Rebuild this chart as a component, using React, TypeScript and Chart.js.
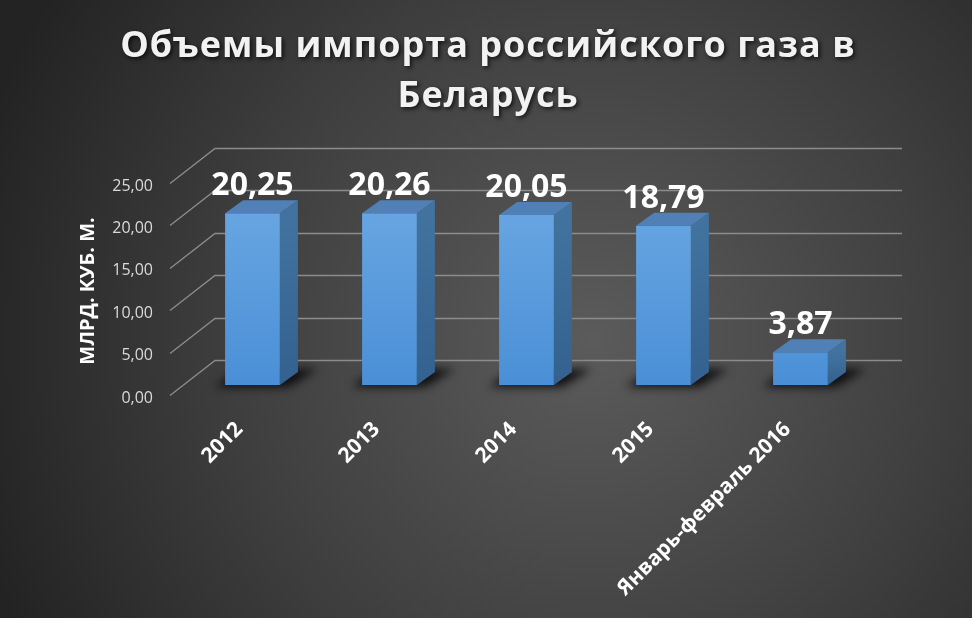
import React, { useEffect, useRef } from 'react';
import { Chart, registerables } from 'chart.js';

Chart.register(...registerables);

const categories = ['2012', '2013', '2014', '2015', 'Январь-февраль 2016'];
const values = [20.25, 20.26, 20.05, 18.79, 3.87];
const yMin = 0;
const yMax = 25;
const yStep = 5;
const titleLines = ['Объемы импорта российского газа в', 'Беларусь'];
const yTitle = 'МЛРД. КУБ. М.';

const FONT = '"Open Sans", "Noto Sans", sans-serif';
const DX = 18;
const DY = -13;

const fmt = (v: number) => v.toFixed(2).replace('.', ',');

const fake3d = {
  id: 'fake3d',
  beforeDraw(chart: any) {
    const { ctx, width, height } = chart;
    ctx.save();
    const g = ctx.createRadialGradient(590, 340, 0, 590, 340, 640);
    g.addColorStop(0, '#5b5b5b');
    g.addColorStop(0.55, '#3f3f3f');
    g.addColorStop(1, '#232323');
    ctx.fillStyle = g;
    ctx.fillRect(0, 0, width, height);
    ctx.restore();
  },
  beforeDatasetsDraw(chart: any) {
    const { ctx, chartArea: ca, scales } = chart;
    const y = scales.y;
    ctx.save();
    ctx.strokeStyle = '#8c8c8c';
    ctx.lineWidth = 1.3;
    y.ticks.forEach((t: any) => {
      const p = Math.round(y.getPixelForValue(t.value)) + 0.5;
      ctx.beginPath();
      ctx.moveTo(ca.left - 14, p + 10);
      ctx.lineTo(ca.left + 31, p - 25);
      ctx.lineTo(ca.right + 33, p - 25);
      ctx.stroke();
    });
    const meta = chart.getDatasetMeta(0);
    ctx.filter = 'blur(5px)';
    ctx.fillStyle = 'rgba(0,0,0,0.8)';
    meta.data.forEach((bar: any) => {
      const { x, base, width } = bar.getProps(['x', 'base', 'width'], true);
      const l = x - width / 2;
      const r = x + width / 2;
      ctx.beginPath();
      ctx.moveTo(l - 10, base + 2);
      ctx.lineTo(r + 8, base + 2);
      ctx.lineTo(r + 38, base - 16);
      ctx.lineTo(l + 14, base - 16);
      ctx.closePath();
      ctx.fill();
    });
    ctx.restore();
  },
  afterDatasetsDraw(chart: any) {
    const { ctx } = chart;
    const meta = chart.getDatasetMeta(0);
    ctx.save();
    meta.data.forEach((bar: any, i: number) => {
      const { x, y, base, width } = bar.getProps(['x', 'y', 'base', 'width'], true);
      const l = x - width / 2;
      const r = x + width / 2;
      const sg = ctx.createLinearGradient(0, y, 0, base);
      sg.addColorStop(0, '#42739f');
      sg.addColorStop(1, '#34618f');
      ctx.fillStyle = sg;
      ctx.beginPath();
      ctx.moveTo(r, y);
      ctx.lineTo(r + DX, y + DY);
      ctx.lineTo(r + DX, base + DY);
      ctx.lineTo(r, base);
      ctx.closePath();
      ctx.fill();
      ctx.fillStyle = '#5080b5';
      ctx.beginPath();
      ctx.moveTo(l, y);
      ctx.lineTo(l + DX, y + DY);
      ctx.lineTo(r + DX, y + DY);
      ctx.lineTo(r, y);
      ctx.closePath();
      ctx.fill();
      ctx.fillStyle = '#ffffff';
      ctx.font = `bold 32px ${FONT}`;
      ctx.textAlign = 'center';
      ctx.textBaseline = 'alphabetic';
      ctx.fillText(fmt(values[i]), x, y - 18);
    });
    ctx.restore();
  },
  afterDraw(chart: any) {
    const { ctx } = chart;
    ctx.save();
    ctx.fillStyle = '#f2f2f2';
    ctx.font = `bold 36px ${FONT}`;
    ctx.textAlign = 'center';
    ctx.textBaseline = 'alphabetic';
    (ctx as any).letterSpacing = '1px';
    ctx.shadowColor = 'rgba(0,0,0,0.7)';
    ctx.shadowBlur = 4;
    ctx.shadowOffsetX = 2;
    ctx.shadowOffsetY = 2;
    ctx.fillText(titleLines[0], 488, 57);
    ctx.fillText(titleLines[1], 488, 107);
    ctx.restore();

    ctx.save();
    ctx.translate(88, 291);
    ctx.rotate(-Math.PI / 2);
    ctx.fillStyle = '#ffffff';
    ctx.font = `bold 20px ${FONT}`;
    ctx.textAlign = 'center';
    ctx.textBaseline = 'middle';
    ctx.fillText(yTitle, 0, 0);
    ctx.restore();
  },
};

export default function App() {
  const ref = useRef<HTMLCanvasElement>(null);
  useEffect(() => {
    if (!ref.current) return;
    const chart = new Chart(ref.current, {
      type: 'bar',
      data: {
        labels: categories,
        datasets: [
          {
            data: values,
            backgroundColor: (c: any) => {
              const { ctx, chartArea } = c.chart;
              if (!chartArea) return '#5b9bd5';
              const g = ctx.createLinearGradient(0, chartArea.top, 0, chartArea.bottom);
              g.addColorStop(0, '#6eaae4');
              g.addColorStop(1, '#4a8fd6');
              return g;
            },
            borderWidth: 0,
            categoryPercentage: 1,
            barPercentage: 0.4,
          },
        ],
      },
      options: {
        animation: false,
        responsive: false,
        layout: { padding: { top: 173, right: 103, left: 0, bottom: 0 } },
        plugins: { legend: { display: false }, tooltip: { enabled: false }, title: { display: false } },
        scales: {
          x: {
            grid: { display: false },
            border: { display: false },
            ticks: {
              color: '#ffffff',
              font: { family: FONT, size: 21, weight: 'bold' },
              maxRotation: 45,
              minRotation: 45,
              autoSkip: false,
              padding: 24,
              labelOffset: -13,
            },
            afterFit: (s: any) => {
              s.height = 233;
            },
          },
          y: {
            min: yMin,
            max: yMax,
            grid: { display: false },
            border: { display: false },
            ticks: {
              stepSize: yStep,
              color: '#d9d9d9',
              font: { family: FONT, size: 16 },
              padding: 23,
              labelOffset: 13,
              callback: (v: any) => fmt(Number(v)),
            },
            afterFit: (s: any) => {
              s.width = 184;
            },
          },
        },
      },
      plugins: [fake3d],
    });
    return () => chart.destroy();
  }, []);
  return (
    <div style={{ position: 'fixed', left: 0, top: 0, width: 972, height: 618 }}>
      <canvas ref={ref} width={972} height={618} style={{ display: 'block', width: 972, height: 618 }} />
    </div>
  );
}
